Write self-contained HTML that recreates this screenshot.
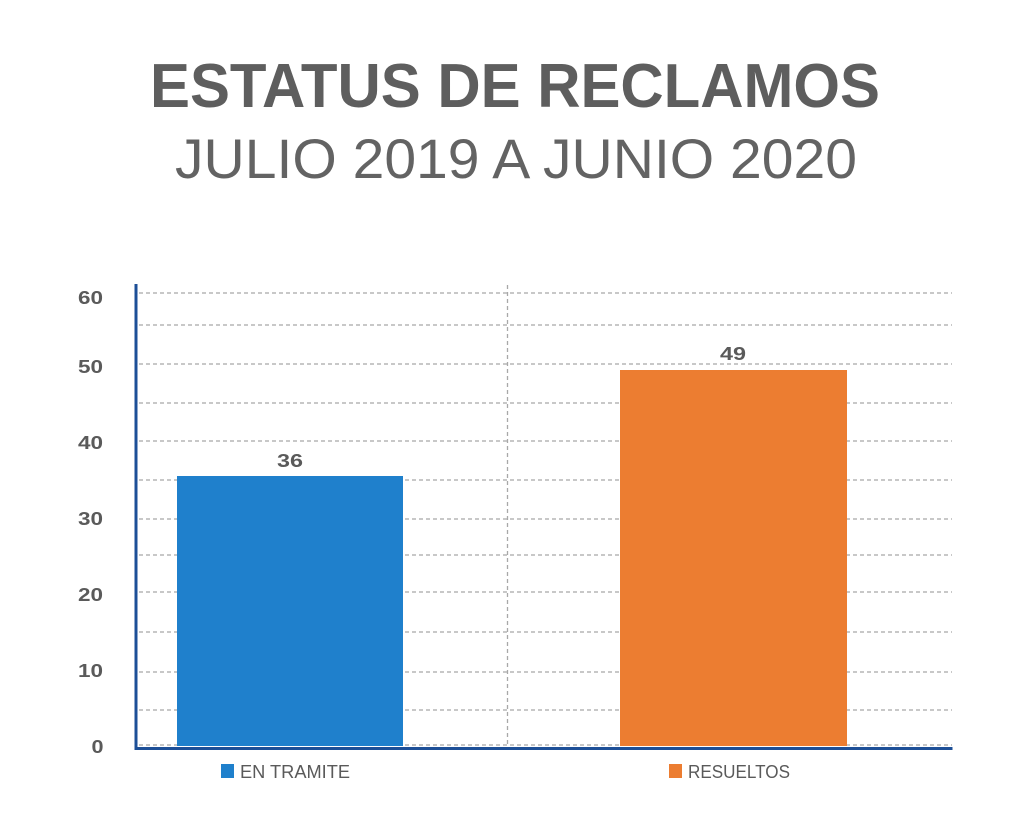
<!DOCTYPE html>
<html>
<head>
<meta charset="utf-8">
<style>
  html,body{margin:0;padding:0;background:#fff;}
  svg{display:block;}
</style>
</head>
<body>
<svg width="1030" height="820" viewBox="0 0 1030 820" xmlns="http://www.w3.org/2000/svg">
  <rect x="0" y="0" width="1030" height="820" fill="#ffffff"/>
  <!-- Titles -->
  <text x="515" y="107" text-anchor="middle" font-family="Liberation Sans, sans-serif" font-weight="bold" font-size="62" fill="#5e5e5e" textLength="730" lengthAdjust="spacingAndGlyphs">ESTATUS DE RECLAMOS</text>
  <text x="516" y="178" text-anchor="middle" font-family="Liberation Sans, sans-serif" font-size="56" fill="#636363" textLength="682" lengthAdjust="spacingAndGlyphs">JULIO 2019 A JUNIO 2020</text>

  <!-- Grid lines -->
  <g stroke="#a8a8a8" stroke-width="1.3" stroke-dasharray="4 3" fill="none">
    <line x1="139" y1="293" x2="952" y2="293"/>
    <line x1="139" y1="325" x2="952" y2="325"/>
    <line x1="139" y1="364" x2="952" y2="364"/>
    <line x1="139" y1="403" x2="952" y2="403"/>
    <line x1="139" y1="441" x2="952" y2="441"/>
    <line x1="139" y1="480" x2="952" y2="480"/>
    <line x1="139" y1="519" x2="952" y2="519"/>
    <line x1="139" y1="555" x2="952" y2="555"/>
    <line x1="139" y1="592" x2="952" y2="592"/>
    <line x1="139" y1="632" x2="952" y2="632"/>
    <line x1="139" y1="672" x2="952" y2="672"/>
    <line x1="139" y1="710" x2="952" y2="710"/>
    <line x1="139" y1="745" x2="952" y2="745"/>
    <line x1="507.5" y1="285" x2="507.5" y2="746"/>
  </g>

  <!-- Bars -->
  <rect x="177" y="476" width="226" height="270" fill="#1f80cc"/>
  <rect x="620" y="370" width="227" height="376" fill="#ec7d31"/>

  <!-- Axes -->
  <rect x="134.5" y="284" width="3" height="466" fill="#1d4f97"/>
  <rect x="134.5" y="747" width="818" height="3" fill="#1d4f97"/>

  <!-- Y labels -->
  <g font-family="Liberation Sans, sans-serif" font-size="18" fill="#5a5a5a" font-weight="bold">
    <text x="78" y="304" textLength="25" lengthAdjust="spacingAndGlyphs">60</text>
    <text x="78" y="373" textLength="25" lengthAdjust="spacingAndGlyphs">50</text>
    <text x="78" y="449" textLength="25" lengthAdjust="spacingAndGlyphs">40</text>
    <text x="78" y="525" textLength="25" lengthAdjust="spacingAndGlyphs">30</text>
    <text x="78" y="601" textLength="25" lengthAdjust="spacingAndGlyphs">20</text>
    <text x="78" y="677" textLength="25" lengthAdjust="spacingAndGlyphs">10</text>
    <text x="91.5" y="753" textLength="12" lengthAdjust="spacingAndGlyphs">0</text>
  </g>

  <!-- Value labels -->
  <g font-family="Liberation Sans, sans-serif" font-size="18" fill="#5a5a5a" font-weight="bold">
    <text x="277" y="467" textLength="26" lengthAdjust="spacingAndGlyphs">36</text>
    <text x="720" y="360" textLength="26" lengthAdjust="spacingAndGlyphs">49</text>
  </g>

  <!-- Legend -->
  <rect x="221" y="764" width="13" height="14" fill="#1f80cc"/>
  <text x="240" y="778" font-family="Liberation Sans, sans-serif" font-size="18" fill="#5a5a5a" textLength="110" lengthAdjust="spacingAndGlyphs">EN TRAMITE</text>
  <rect x="669" y="764" width="13" height="14" fill="#ec7d31"/>
  <text x="688" y="778" font-family="Liberation Sans, sans-serif" font-size="18" fill="#5a5a5a" textLength="102" lengthAdjust="spacingAndGlyphs">RESUELTOS</text>
</svg>
</body>
</html>
